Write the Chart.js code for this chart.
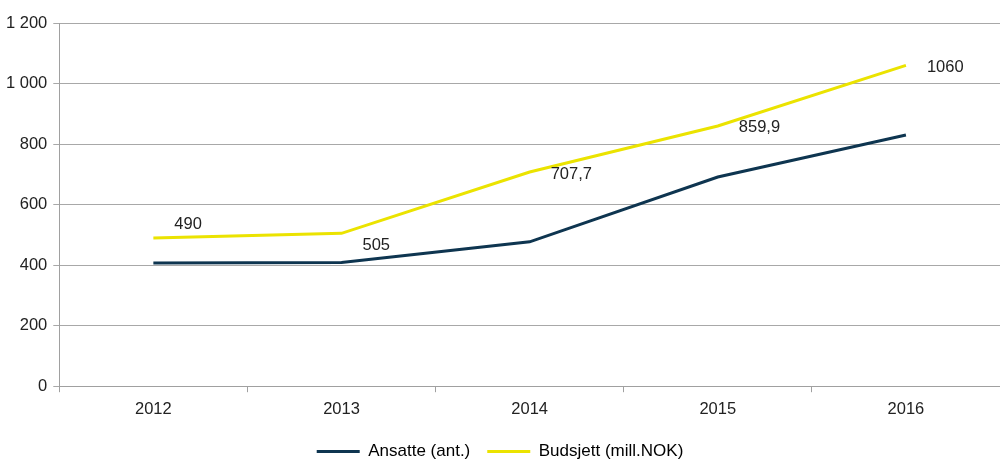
<!DOCTYPE html>
<html>
<head>
<meta charset="utf-8">
<script src="https://cdn.jsdelivr.net/npm/chart.js@4/dist/chart.umd.min.js"></script>
<style>
html,body{margin:0;padding:0;background:#fff;}
#wrap{width:1000px;height:475px;position:relative;}
</style>
</head>
<body>
<div id="wrap"><canvas id="c" width="1000" height="475"></canvas></div>
<script>
const years = ['2012', '2013', '2014', '2015', '2016'];
const ansatte = [407, 409, 477, 691, 830];
const budsjett = [490, 505, 707.7, 859.9, 1060];
const budsjettLabels = ['490', '505', '707,7', '859,9', '1060'];
const yTicks = [0, 200, 400, 600, 800, 1000, 1200];

const labelDy = [-13, 12, 2, 2, 2];

const labelPlugin = {
  id: 'budLabels',
  afterDatasetsDraw(chart) {
    const ctx = chart.ctx;
    const meta = chart.getDatasetMeta(1);
    ctx.save();
    ctx.font = '16.5px "Liberation Sans", Arial, sans-serif';
    ctx.fillStyle = '#222';
    ctx.textAlign = 'left';
    ctx.textBaseline = 'middle';
    meta.data.forEach((pt, i) => {
      ctx.fillText(budsjettLabels[i], pt.x + 21, pt.y + labelDy[i]);
    });
    ctx.restore();
  }
};

Chart.defaults.font.family = '"Liberation Sans", Arial, sans-serif';
Chart.defaults.color = '#222';

new Chart(document.getElementById('c'), {
  type: 'line',
  data: {
    labels: years,
    datasets: [
      { label: 'Ansatte (ant.)', data: ansatte, borderColor: '#0e3550', backgroundColor: '#0e3550',
        borderWidth: 3, pointRadius: 0, tension: 0 },
      { label: 'Budsjett (mill.NOK)', data: budsjett, borderColor: '#ebe300', backgroundColor: '#ebe300',
        borderWidth: 3, pointRadius: 0, tension: 0 }
    ]
  },
  options: {
    responsive: false,
    animation: false,
    devicePixelRatio: 1,
    layout: { padding: { left: 0, right: 0, top: 23, bottom: 5 } },
    plugins: {
      legend: {
        position: 'bottom',
        labels: {
          boxWidth: 43, boxHeight: 3, padding: 17,
          font: { size: 17 }, color: '#222',
          generateLabels(chart) {
            return chart.data.datasets.map((ds, i) => ({
              text: ds.label, fillStyle: ds.borderColor, strokeStyle: ds.borderColor,
              lineWidth: 0, datasetIndex: i, hidden: false
            }));
          }
        }
      },
      tooltip: { enabled: false }
    },
    scales: {
      x: {
        offset: true,
        grid: { display: true, drawOnChartArea: false, drawTicks: true, tickLength: 6, color: '#a0a0a0', offset: true },
        border: { display: true, color: '#a0a0a0', width: 1 },
        ticks: { font: { size: 16.5 }, color: '#222', padding: 7 }
      },
      y: {
        min: 0, max: 1200,
        afterBuildTicks(scale) { scale.ticks = yTicks.map(v => ({ value: v })); },
        grid: { color: '#a8a8a8', lineWidth: 1, tickLength: 6 },
        border: { display: true, color: '#a0a0a0', width: 1 },
        ticks: {
          font: { size: 16.5 }, color: '#222', padding: 6,
          callback: v => String(v).replace(/\B(?=(\d{3})+(?!\d))/g, ' ')
        }
      }
    }
  },
  plugins: [labelPlugin]
});
</script>
</body>
</html>
